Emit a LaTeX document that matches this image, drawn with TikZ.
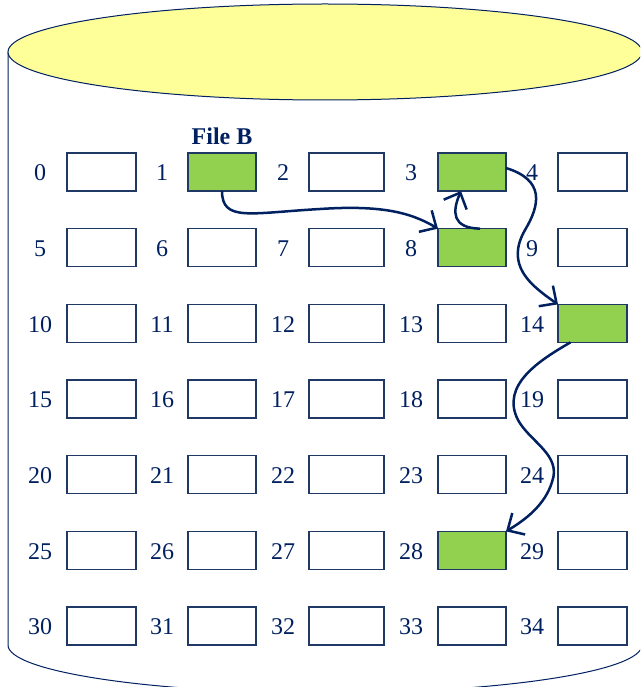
\documentclass[tikz,border=0pt]{standalone}
\usepackage{fontspec}
\setmainfont{Liberation Serif}
\usetikzlibrary{arrows.meta}
\definecolor{navy}{RGB}{0,32,96}
\definecolor{boxline}{RGB}{31,56,100}
\definecolor{boxgreen}{RGB}{146,208,80}
\definecolor{lidyellow}{RGB}{255,255,153}
\tikzset{
  box/.style={draw=boxline, line width=1.1pt, fill=white, minimum height=38pt, inner sep=0pt, outer sep=0pt},
  greenbox/.style={draw=boxline, line width=1.1pt, fill=boxgreen},
  lbl/.style={text=navy, font=\fontsize{24}{27}\selectfont, inner sep=0pt},
  cyl/.style={draw=navy, line width=1pt},
  link/.style={draw=navy, line width=2.5pt, -{Straight Barb[length=13pt,width=25pt,line width=2.5pt]}},
}
\begin{document}
\begin{tikzpicture}[x=1pt,y=-1pt]
\useasboundingbox (0,0) rectangle (640,687);
\begin{scope}
\clip (0,0) rectangle (640,687);
\draw[cyl] (8,52) -- (8,645) arc[start angle=180, end angle=0, x radius=317, y radius=48] -- (642,52);
\filldraw[cyl, fill=lidyellow] (325,52) ellipse [x radius=317, y radius=48];
\end{scope}
\foreach \r in {0,...,6}{
  \foreach \c/\bx/\bw/\lx in {0/67/69/40, 1/188/68/162, 2/309/75/283, 3/438/68/411, 4/558/69/532}{
    \pgfmathtruncatemacro\n{5*\r+\c}
    \pgfmathsetmacro\by{153+75.67*\r}
    \node[box, minimum width=\bw pt, anchor=north west] (b\n) at (\bx,\by) {};
    \node[lbl] (l\n) at (\lx,\by+20) {\n};
  }
}
\foreach \n in {1,3,8,14,28}{
  \draw[greenbox] (b\n.south west) rectangle (b\n.north east);
}
\node[text=navy, font=\fontsize{24}{27}\selectfont\bfseries, inner sep=0pt] (fileB) at (222,136) {File B};
% arrows
\draw[link] (b1.south) .. controls (222,222) and (250,213) .. (320,209)
   .. controls (380,205) and (410,212) .. (b8.north west);
\draw[link] ([xshift=8pt]b8.north) .. controls (452,228) and (452,212) .. ([xshift=-11pt]b3.south);
\draw[link] ([yshift=4pt]b3.east) .. controls (545,180) and (540,205) .. (525,230)
   .. controls (505,265) and (530,285) .. (b14.north west);
\draw[link] ([xshift=-22pt]b14.south) .. controls (540,360) and (500,385) .. (518,420)
   .. controls (530,442) and (562,455) .. (552,482)
   .. controls (545,505) and (525,520) .. (b28.north east);
\end{tikzpicture}
\end{document}
